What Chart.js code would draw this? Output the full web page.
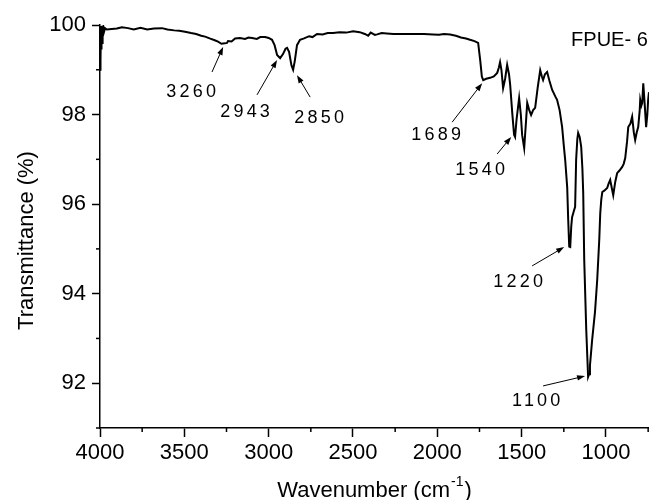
<!DOCTYPE html>
<html>
<head>
<meta charset="UTF-8">
<title>FTIR spectrum FPUE-6</title>
<style>
    html, body {
        margin: 0;
        padding: 0;
        background: #fff;
    }
    #chartContainer {
        width: 649px;
        height: 500px;
    }
</style>
<script src="https://cdn.jsdelivr.net/npm/chart.js"></script>
</head>
<body>

<div id="chartContainer">
    <canvas id="irChart"></canvas>
</div>

<script>
// spectrum (wavenumber in cm-1, transmittance in %)
let wavenumbers = [
    4000, 3998, 3996, 3994, 3992, 3990, 3988, 3986, 3983, 3980, 3976, 3970, 3960,
    3900, 3870, 3834, 3800, 3760, 3720, 3680, 3632, 3600, 3560, 3530, 3496, 3460,
    3430, 3400, 3377, 3350, 3320, 3300, 3280, 3260, 3247, 3241, 3220, 3199, 3170,
    3140, 3120, 3098, 3070, 3050, 3021, 3000, 2980, 2965, 2950, 2932, 2915, 2900,
    2891, 2879, 2865, 2855, 2845, 2832, 2814, 2790, 2760, 2740, 2713, 2680, 2650,
    2618, 2580, 2540, 2499, 2460, 2430, 2410, 2395, 2370, 2357, 2330, 2300, 2260,
    2221, 2180, 2120, 2080, 2025, 1990, 1960, 1924, 1890, 1860, 1830, 1806, 1780,
    1758, 1746, 1736, 1728, 1710, 1687, 1665, 1645, 1635, 1628, 1620, 1610, 1598,
    1586, 1575, 1568, 1555, 1545, 1539, 1530, 1515, 1505, 1497, 1485, 1475, 1467,
    1455, 1444, 1432, 1420, 1405, 1390, 1380, 1373, 1362, 1349, 1335, 1319, 1300,
    1290, 1275, 1260, 1250, 1242, 1230, 1224, 1218, 1212, 1206, 1201, 1190, 1183,
    1177, 1170, 1165, 1156, 1147, 1140, 1135, 1129, 1117, 1106, 1100, 1095, 1082,
    1065, 1052, 1040, 1034, 1028, 1022, 1010, 993, 985, 975, 965, 957, 945, 934,
    920, 904, 895, 886, 875, 868, 855, 845, 835, 827, 818, 809, 800, 797, 790, 785,
    779, 770, 762, 755, 750, 745
];
let transmittance = [
    99.0, 99.98, 99.2, 99.98, 99.45, 99.98, 99.6, 99.98, 99.75, 99.95, 99.85, 99.93, 99.9,
    99.92, 99.95, 99.93, 99.9, 99.94, 99.9, 99.92, 99.93, 99.9, 99.88, 99.87, 99.85, 99.82,
    99.8, 99.76, 99.74, 99.7, 99.66, 99.63, 99.58, 99.59, 99.6, 99.64, 99.63, 99.7, 99.71,
    99.69, 99.72, 99.71, 99.69, 99.73, 99.73, 99.71, 99.67, 99.55, 99.33, 99.26, 99.35, 99.47,
    99.49, 99.4, 99.1, 99.0, 99.2, 99.55, 99.67, 99.7, 99.75, 99.73, 99.8, 99.79, 99.82,
    99.82, 99.84, 99.83, 99.86, 99.84, 99.8, 99.76, 99.83, 99.78, 99.79, 99.82, 99.81, 99.8,
    99.8, 99.8, 99.8, 99.8, 99.79, 99.78, 99.8, 99.79, 99.76, 99.72, 99.7, 99.67, 99.64,
    99.6, 99.22, 98.85, 98.77, 98.8, 98.82, 98.85, 98.93, 99.05, 99.17, 99.0, 98.59, 98.8,
    99.11, 98.9, 98.66, 98.0, 97.55, 97.5, 97.9, 98.37, 98.0, 97.54, 97.25, 97.8, 98.26,
    98.1, 97.99, 98.1, 98.15, 98.6, 98.99, 98.85, 98.77, 98.9, 98.95, 98.75, 98.55, 98.4,
    98.33, 98.1, 97.72, 97.3, 96.99, 96.38, 95.65, 95.05, 95.04, 95.5, 95.71, 95.85, 95.94,
    96.99, 97.45, 97.59, 97.5, 97.28, 96.8, 96.25, 94.75, 93.19, 92.14, 92.2, 92.4, 92.97,
    93.6, 94.31, 95.2, 95.8, 96.1, 96.27, 96.3, 96.36, 96.45, 96.54, 96.35, 96.2, 96.5, 96.69,
    96.75, 96.83, 96.9, 97.03, 97.4, 97.72, 97.8, 97.95, 97.6, 97.43, 97.6, 97.72, 98.1, 98.33, 98.2, 98.26,
    98.7, 98.2, 97.72, 98.0, 98.33, 98.5
];

let xTicks = [4000, 3500, 3000, 2500, 2000, 1500, 1000];
let xMinorTicks = [3750, 3250, 2750, 2250, 1750, 1250, 750];
let yTicks = [92, 94, 96, 98, 100];
let yMinorTicks = [91, 93, 95, 97, 99];

let peakLabels = ['3260', '2943', '2850', '1689', '1540', '1220', '1100'];
let sampleName = 'FPUE- 6';

// where each peak label sits and where its arrow points, in data units
const labelPlaces = [
    {at: [3460, 98.50], from: [3336, 98.95], to: [3270, 99.51]},
    {at: [3140, 98.06], from: [3069, 98.44], to: [2950, 99.22]},
    {at: [2701, 97.92], from: [2754, 98.39], to: [2832, 98.88]},
    {at: [2007, 97.54], from: [1912, 97.83], to: [1734, 98.70]},
    {at: [1746, 96.76], from: [1645, 97.12], to: [1562, 97.50]},
    {at: [1521, 94.26], from: [1438, 94.62], to: [1248, 95.04]},
    {at: [1414, 91.60], from: [1373, 91.94], to: [1124, 92.16]}
];

const FONT = "'Liberation Sans', Arial, sans-serif";

const points = wavenumbers.map((w, i) => ({x: w, y: transmittance[i]}));

const axisDecor = {
    id: 'axisDecor',
    afterDraw(chart) {
        const {ctx, chartArea, scales: {x, y}} = chart;
        ctx.save();
        ctx.strokeStyle = '#000';
        ctx.lineWidth = 1.5;
        xMinorTicks.forEach(v => {
            const px = x.getPixelForValue(v);
            ctx.beginPath();
            ctx.moveTo(px, chartArea.bottom);
            ctx.lineTo(px, chartArea.bottom + 4);
            ctx.stroke();
        });
        yMinorTicks.forEach(v => {
            const py = y.getPixelForValue(v);
            ctx.beginPath();
            ctx.moveTo(chartArea.left, py);
            ctx.lineTo(chartArea.left - 4, py);
            ctx.stroke();
        });

        // axis titles
        ctx.fillStyle = '#000';
        ctx.font = '22px ' + FONT;
        ctx.textBaseline = 'alphabetic';
        const main = 'Wavenumber (cm';
        const sup = '-1';
        const close = ')';
        const wMain = ctx.measureText(main).width;
        const wClose = ctx.measureText(close).width;
        ctx.font = '14px ' + FONT;
        const wSup = ctx.measureText(sup).width;
        const total = wMain + wSup + 2 + wClose;
        let tx = (chartArea.left + chartArea.right) / 2 - total / 2;
        const ty = chartArea.bottom + 69;
        ctx.font = '22px ' + FONT;
        ctx.textAlign = 'left';
        ctx.fillText(main, tx, ty);
        ctx.font = '14px ' + FONT;
        ctx.fillText(sup, tx + wMain + 1, ty - 11);
        ctx.font = '22px ' + FONT;
        ctx.fillText(close, tx + wMain + wSup + 2, ty);

        ctx.save();
        ctx.translate(chartArea.left - 67, (chartArea.top + chartArea.bottom) / 2 + 14);
        ctx.rotate(-Math.PI / 2);
        ctx.textAlign = 'center';
        ctx.fillText('Transmittance (%)', 0, 0);
        ctx.restore();

        // peak labels with arrows
        ctx.font = '18px ' + FONT;
        ctx.letterSpacing = '3.2px';
        ctx.textBaseline = 'middle';
        ctx.textAlign = 'left';
        ctx.lineWidth = 1;
        peakLabels.forEach((txt, i) => {
            const p = labelPlaces[i];
            const lx = x.getPixelForValue(p.at[0]);
            const ly = y.getPixelForValue(p.at[1]);
            const w = ctx.measureText(txt).width - 3.2;
            ctx.fillText(txt, lx - w / 2, ly);

            const x0 = x.getPixelForValue(p.from[0]);
            const y0 = y.getPixelForValue(p.from[1]);
            const x1 = x.getPixelForValue(p.to[0]);
            const y1 = y.getPixelForValue(p.to[1]);
            const ang = Math.atan2(y1 - y0, x1 - x0);
            ctx.beginPath();
            ctx.moveTo(x0, y0);
            ctx.lineTo(x1 - 5 * Math.cos(ang), y1 - 5 * Math.sin(ang));
            ctx.stroke();
            ctx.beginPath();
            ctx.moveTo(x1, y1);
            ctx.lineTo(x1 - 8 * Math.cos(ang) + 2.8 * Math.sin(ang), y1 - 8 * Math.sin(ang) - 2.8 * Math.cos(ang));
            ctx.lineTo(x1 - 8 * Math.cos(ang) - 2.8 * Math.sin(ang), y1 - 8 * Math.sin(ang) + 2.8 * Math.cos(ang));
            ctx.closePath();
            ctx.fill();
        });

        ctx.letterSpacing = '0px';
        ctx.font = '20px ' + FONT;
        ctx.fillText(sampleName, x.getPixelForValue(1207), y.getPixelForValue(99.66));
        ctx.restore();
    }
};

const ctx = document.getElementById('irChart').getContext('2d');
const irChart = new Chart(ctx, {
    type: 'scatter',
    data: {
        datasets: [{
            data: points,
            showLine: true,
            borderColor: '#000',
            borderWidth: 2,
            pointRadius: 0,
            tension: 0
        }]
    },
    options: {
        responsive: true,
        maintainAspectRatio: false,
        animation: false,
        events: [],
        layout: {
            padding: {top: 25, right: 0, bottom: 0, left: 0}
        },
        plugins: {
            legend: {display: false},
            tooltip: {enabled: false}
        },
        scales: {
            x: {
                type: 'linear',
                reverse: true,
                min: 745,
                max: 4000,
                afterBuildTicks: scale => {
                    scale.ticks = xTicks.map(v => ({value: v}));
                },
                afterFit: scale => {
                    scale.height = 72;
                },
                ticks: {
                    color: '#000',
                    padding: 3,
                    maxRotation: 0,
                    font: {family: FONT, size: 22},
                    callback: v => String(v)
                },
                grid: {
                    drawOnChartArea: false,
                    drawTicks: true,
                    tickLength: 9,
                    tickColor: '#000',
                    tickWidth: 1.5
                },
                border: {display: true, color: '#000', width: 1.5}
            },
            y: {
                type: 'linear',
                min: 91,
                max: 100,
                afterBuildTicks: scale => {
                    scale.ticks = yTicks.map(v => ({value: v}));
                },
                afterFit: scale => {
                    scale.width = 100;
                },
                ticks: {
                    color: '#000',
                    padding: 6,
                    font: {family: FONT, size: 22},
                    callback: v => String(v)
                },
                grid: {
                    drawOnChartArea: false,
                    drawTicks: true,
                    tickLength: 8,
                    tickColor: '#000',
                    tickWidth: 1.5
                },
                border: {display: true, color: '#000', width: 1.5}
            }
        }
    },
    plugins: [axisDecor]
});
</script>

</body>
</html>
